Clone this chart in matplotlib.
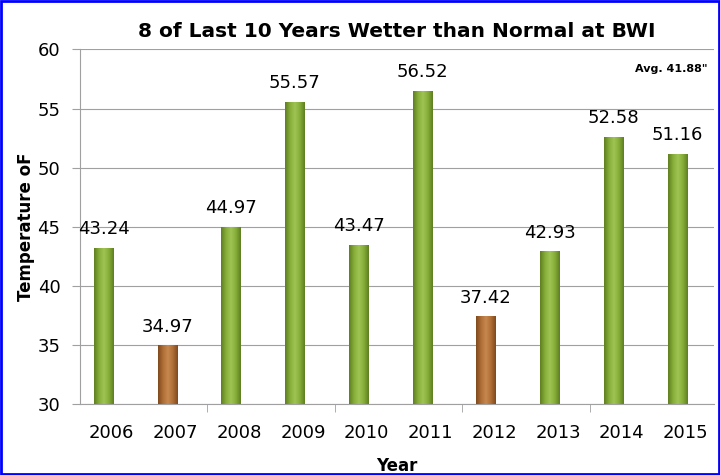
import numpy as np
import matplotlib.pyplot as plt
from matplotlib.colors import LinearSegmentedColormap
from matplotlib.patches import Rectangle

years = ['2006', '2007', '2008', '2009', '2010', '2011', '2012', '2013', '2014', '2015']
precip = [43.24, 34.97, 44.97, 55.57, 43.47, 56.52, 37.42, 42.93, 52.58, 51.16]
avg = 41.88

green = LinearSegmentedColormap.from_list('g', ['#5f7f22', '#87ad38', '#9fc454', '#87ad38', '#5f7f22'])
brown = LinearSegmentedColormap.from_list('b', ['#7f4a1e', '#b06e36', '#c6884e', '#b06e36', '#7f4a1e'])

fig = plt.figure(figsize=(7.2, 4.75), dpi=100)
ax = fig.add_axes([0.111, 0.149, 0.881, 0.747])

x = np.arange(len(years))
w = 0.30
off = -0.13  # bars sit a little left of the category label, like the Excel original
grad = np.linspace(0, 1, 64).reshape(1, -1)
for i, v in enumerate(precip):
    cmap = green if v >= avg else brown
    xc = i + off
    im = ax.imshow(grad, cmap=cmap, aspect='auto', extent=(xc - w / 2, xc + w / 2, 30, v), zorder=3)
    r = Rectangle((xc - w / 2, 30), w, v - 30, fill=False, edgecolor='none')
    ax.add_patch(r)
    im.set_clip_path(r)
    ax.annotate(f'{v:.2f}', (xc, v), xytext=(0, 7), textcoords='offset points',
                ha='center', va='bottom', fontsize=13, zorder=4)

ax.set_xlim(-0.5, 9.45)
ax.set_ylim(30, 60)
ax.set_yticks(range(30, 61, 5))
ax.set_xticks(x)
ax.set_xticklabels(years, fontsize=13)
ax.tick_params(axis='x', length=0, pad=14)
ax.set_xticks([1.5, 3.5, 5.5, 7.5], minor=True)
ax.tick_params(axis='x', which='minor', length=6, color='#a0a0a0')
ax.tick_params(axis='y', labelsize=13, length=6, color='#a0a0a0', pad=8)
ax.grid(axis='y', color='#a0a0a0', linewidth=0.8, zorder=0)
for s in ['top', 'right']:
    ax.spines[s].set_visible(False)
for s in ['left', 'bottom']:
    ax.spines[s].set_color('#a0a0a0')

ax.set_title('8 of Last 10 Years Wetter than Normal at BWI', fontsize=14.5, fontweight='bold', pad=9)
ax.set_xlabel('Year', fontsize=12, fontweight='bold', labelpad=11)
ax.set_ylabel('Temperature oF', fontsize=12, fontweight='bold', labelpad=2)
ax.text(0.99, 0.96, 'Avg. 41.88"', transform=ax.transAxes, ha='right', va='top',
        fontsize=8, fontweight='bold')

fig.patches.append(Rectangle((0.002, 0.003), 0.996, 0.994, transform=fig.transFigure,
                             fill=False, edgecolor='#0000ff', linewidth=2))

fig.savefig('out.png', dpi=100)
